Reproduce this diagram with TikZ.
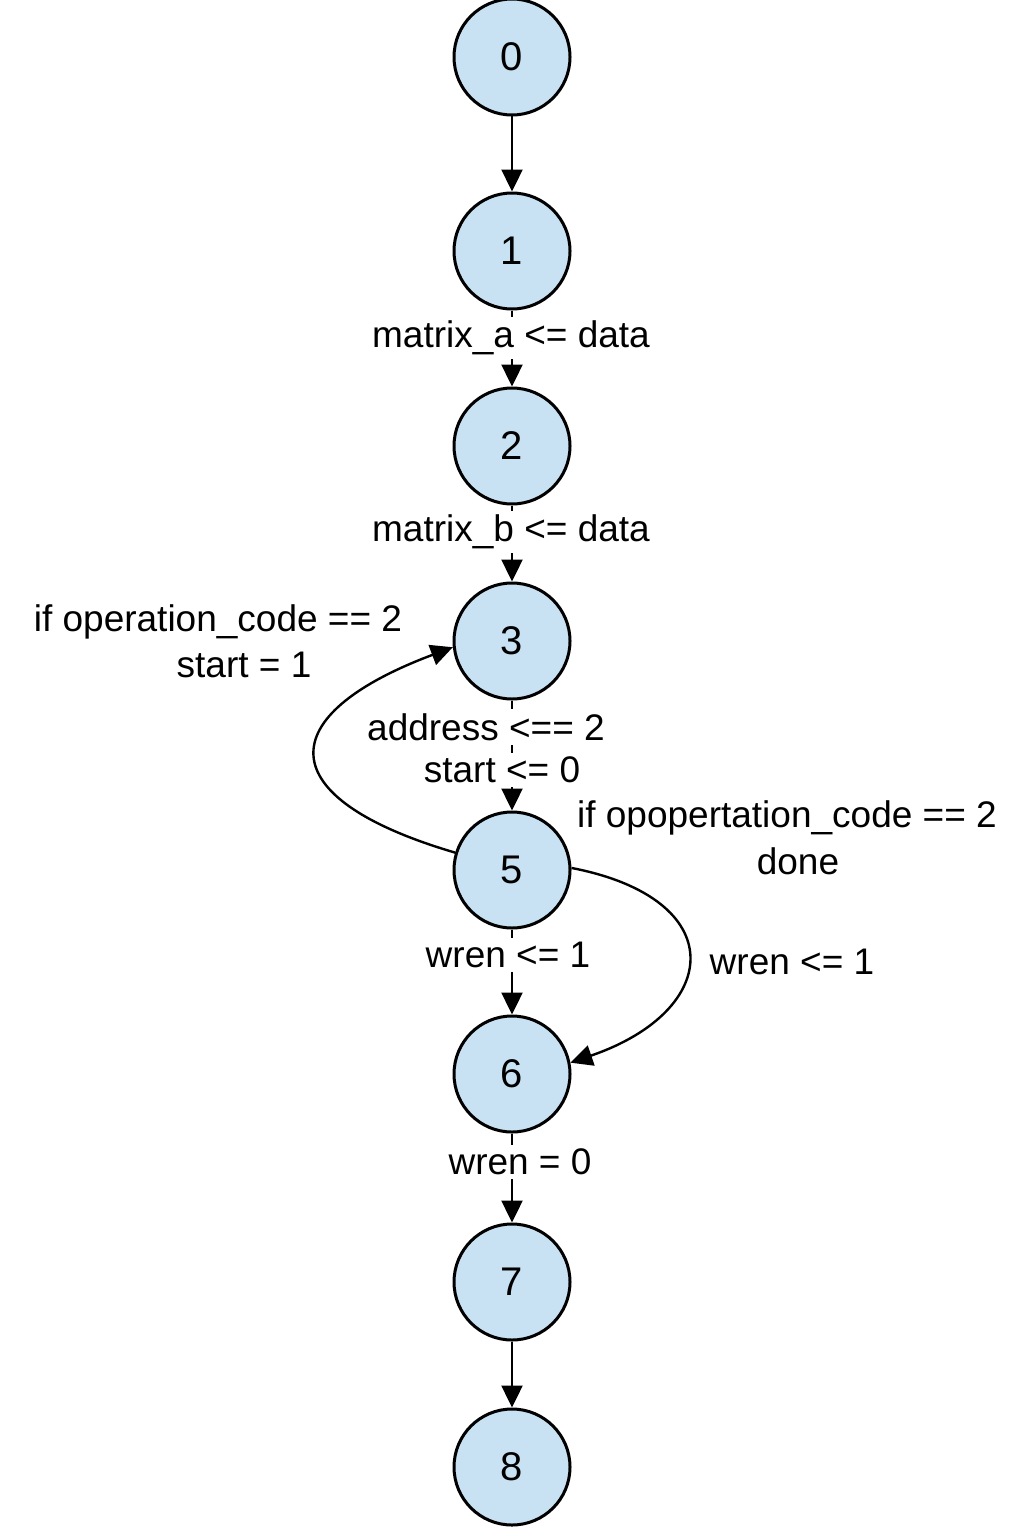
\documentclass[tikz,border=0pt]{standalone}
\usepackage{fontspec}
\setmainfont{Liberation Sans}
\usetikzlibrary{arrows.meta}
\definecolor{nodefill}{HTML}{C8E2F3}
\tikzset{
  state/.style={circle, draw=black, line width=1.5pt, fill=nodefill, minimum size=58pt, inner sep=0pt, font=\fontsize{20}{24}\selectfont},
  conn/.style={line width=1.2pt, -{Triangle[length=11pt,width=10.5pt]}},
  lbl/.style={font=\fontsize{18.5}{22}\selectfont, inner sep=2pt, fill=white},
  plainlbl/.style={font=\fontsize{18.5}{22}\selectfont, inner sep=1pt}
}
\begin{document}
\begin{tikzpicture}[x=0.5pt, y=-0.5pt]
\useasboundingbox (0,0) rectangle (1024,1536);
% states
\node[state] (n0) at (512,57) {0};
\node[state] (n1) at (512,251) {1};
\node[state] (n2) at (512,446) {2};
\node[state] (n3) at (512,641) {3};
\node[state] (n5) at (512,870) {5};
\node[state] (n6) at (512,1074) {6};
\node[state] (n7) at (512,1282) {7};
\node[state] (n8) at (512,1467) {8};
% straight connectors
\draw[conn] (n0) -- (n1);
\draw[conn] (n1) -- (n2);
\draw[conn] (n2) -- (n3);
\draw[conn] (n3) -- (n5);
\draw[conn] (n5) -- (n6);
\draw[conn] (n6) -- (n7);
\draw[conn] (n7) -- (n8);
% curved connectors
\draw[conn] (n5.163) .. controls +(-187,-55) and +(-181,68) .. (n3.186);
\draw[conn] (n5.2) .. controls +(160,31) and +(152,-52) .. (n6.11);
% labels
\node[lbl] (la) at (511,338) {matrix\_a <= data};
\node[lbl] (lb) at (511,532) {matrix\_b <= data};
\node[lbl] (lc1) at (486,727) {address <== 2};
\node[lbl] (lc2) at (502,770) {start <= 0};
\node[plainlbl] (ld1) at (218,622) {if operation\_code == 2};
\node[plainlbl] (ld2) at (244,665) {start = 1};
\node[plainlbl] (le1) at (787,818) {if opopertation\_code == 2};
\node[plainlbl] (le2) at (798,861) {done};
\node[lbl] (lf) at (508,955) {wren <= 1};
\node[plainlbl] (lg) at (792,962) {wren <= 1};
\node[lbl] (lh) at (520,1162) {wren = 0};
\end{tikzpicture}
\end{document}
